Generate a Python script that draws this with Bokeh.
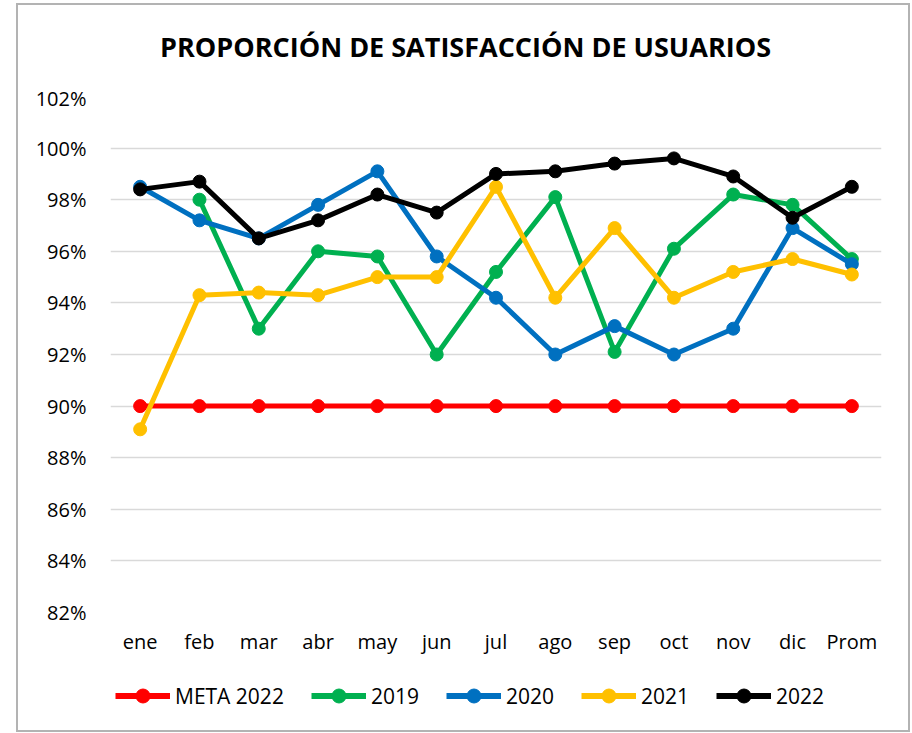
import math
from bokeh.plotting import figure
from bokeh.layouts import column
from bokeh.models import (Range1d, FactorRange, Legend, LegendItem, FixedTicker,
                          PrintfTickFormatter, Label)
from bokeh.embed import file_html
from bokeh.resources import INLINE

nan = math.nan

months = ["ene", "feb", "mar", "abr", "may", "jun", "jul", "ago", "sep", "oct", "nov", "dic", "Prom"]
meta_2022 = [90.0, 90.0, 90.0, 90.0, 90.0, 90.0, 90.0, 90.0, 90.0, 90.0, 90.0, 90.0, 90.0]
y2019 = [nan, 98.0, 93.0, 96.0, 95.8, 92.0, 95.2, 98.1, 92.1, 96.1, 98.2, 97.8, 95.7]
y2020 = [98.5, 97.2, 96.5, 97.8, 99.1, 95.8, 94.2, 92.0, 93.1, 92.0, 93.0, 96.9, 95.5]
y2021 = [89.1, 94.3, 94.4, 94.3, 95.0, 95.0, 98.5, 94.2, 96.9, 94.2, 95.2, 95.7, 95.1]
y2022 = [98.4, 98.7, 96.5, 97.2, 98.2, 97.5, 99.0, 99.1, 99.4, 99.6, 98.9, 97.3, 98.5]
y_ticks = [82, 84, 86, 88, 90, 92, 94, 96, 98, 100, 102]
title_text = "PROPORCIÓN DE SATISFACCIÓN DE USUARIOS"

series = [
    ("META 2022", meta_2022, "#FF0000"),
    ("2019", y2019, "#00B050"),
    ("2020", y2020, "#0070C0"),
    ("2021", y2021, "#FFC000"),
    ("2022", y2022, "#000000"),
]

FONT = "Open Sans"
W = 890
FW = 771          # frame width shared by all rows (column aligns frames)
BL, BR = 92, 27   # left / right borders


def bare_figure(height):
    f = figure(width=W, height=height, x_range=Range1d(0, FW), y_range=Range1d(0, height),
               x_axis_location=None, y_axis_location=None,
               min_border_left=BL, min_border_right=BR, min_border_top=0, min_border_bottom=0,
               output_backend="svg", toolbar_location=None)
    f.outline_line_color = None
    f.grid.visible = False
    f.background_fill_color = "white"
    f.border_fill_color = "white"
    return f


# ---- header with title ----
HEAD_H = 79
head = bare_figure(HEAD_H)
head.add_layout(Label(x=355, y=38, text=title_text, text_align="center", text_baseline="middle",
                      text_font=FONT, text_font_size="27px", text_font_style="bold",
                      text_color="#000000"))

# ---- main chart ----
p = figure(
    x_range=FactorRange(*months, range_padding=0),
    y_range=Range1d(82, 102),
    frame_width=FW, frame_height=516,
    output_backend="svg", toolbar_location=None,
    min_border_left=BL, min_border_right=BR, min_border_top=12, min_border_bottom=45,
)
p.outline_line_color = None
p.background_fill_color = "white"
p.border_fill_color = "white"

p.yaxis.ticker = FixedTicker(ticks=y_ticks)
p.yaxis.formatter = PrintfTickFormatter(format="%d%%")
for ax in (p.xaxis[0], p.yaxis[0]):
    ax.axis_line_color = None
    ax.major_tick_line_color = None
    ax.minor_tick_line_color = None
    ax.major_label_text_font = FONT
    ax.major_label_text_font_size = "20px"
    ax.major_label_text_color = "#000000"
p.yaxis.major_label_standoff = 18
p.xaxis.major_label_standoff = 9

p.xgrid.grid_line_color = None
p.ygrid.ticker = FixedTicker(ticks=y_ticks)
p.ygrid.grid_line_color = "#d9d9d9"
p.ygrid.grid_line_width = 1.5

for name, vals, color in series:
    p.line(months, vals, line_color=color, line_width=5)
    p.scatter(months, vals, marker="circle", size=13, fill_color=color, line_color=color)

# ---- legend strip (proxy glyphs sit outside the visible range) ----
LEG_H = 73
leg = bare_figure(LEG_H)
items = []
for name, vals, color in series:
    l = leg.line(x=[-50, -40], y=[-50, -50], line_color=color, line_width=6)
    s = leg.scatter(x=[-45], y=[-50], marker="circle", size=13, fill_color=color, line_color=color)
    items.append(LegendItem(label=name, renderers=[l, s]))

legend = Legend(items=items, orientation="horizontal", location=(5, 17))
legend.label_text_font = FONT
legend.label_text_font_size = "21px"
legend.label_text_color = "#000000"
legend.glyph_width = 55
legend.glyph_height = 35
legend.label_standoff = 5
legend.spacing = 27
legend.padding = 0
legend.margin = 0
legend.border_line_color = None
legend.background_fill_alpha = 0
leg.add_layout(legend)

layout = column(head, p, leg, spacing=0,
                styles={"border": "2px solid #b3b3b3", "margin-left": "16px", "margin-top": "3px",
                        "background": "white"})

open("out.html", "w").write(file_html(layout, INLINE))
